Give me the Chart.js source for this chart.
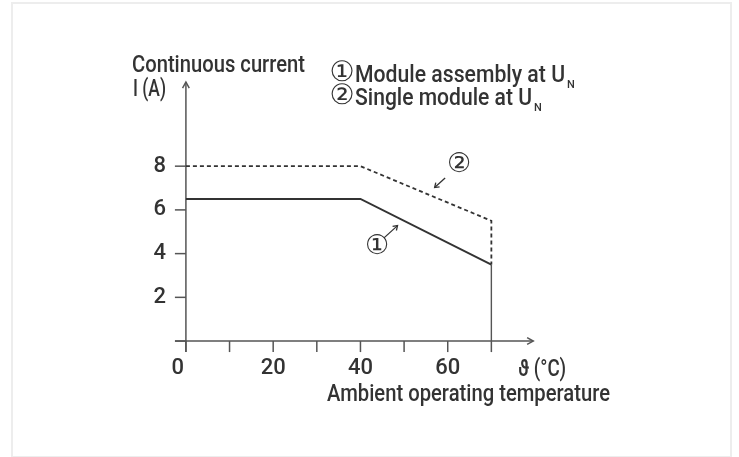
<!DOCTYPE html>
<html>
<head>
<meta charset="utf-8">
<script src="https://cdn.jsdelivr.net/npm/chart.js@4.4.0/dist/chart.umd.min.js"></script>
<style>
  html, body { margin: 0; padding: 0; background: #fff; }
  #wrap { position: relative; width: 739px; height: 457px; overflow: hidden; }
  #frame { position: absolute; left: 11px; top: 2px; width: 721px; height: 456px; border: 2px solid #ededed; box-sizing: border-box; }
  #chart { position: absolute; left: 0; top: 0; }
</style>
</head>
<body>
<div id="wrap">
  <div id="frame"></div>
  <canvas id="chart" width="739" height="457"></canvas>
</div>
<script>
// curve 1: module assembly at U_N (solid)
const tempAssembly = [0, 40, 70, 70];
const currentAssembly = [6.5, 6.5, 3.5, 0];
// curve 2: single module at U_N (dashed)
const tempSingle = [0, 40, 70, 70];
const currentSingle = [8, 8, 5.5, 3.5];

const xTickLabels = [0, 20, 40, 60];
const xTickMarks = [0, 10, 20, 30, 40, 50, 60, 70];
const yTickLabels = [2, 4, 6, 8];
const yTickMarks = [0, 2, 4, 6, 8];

// circled markers pointing at the curves: [label, x, y, arrowFromX, arrowFromY, arrowToX, arrowToY]
const markers = [
  ["②", 62.6, 8.05, 59.4, 7.46, 57.0, 7.02],
  ["①", 43.8, 4.3, 45.4, 4.72, 48.5, 5.28],
];

const FONT = "Roboto, 'Liberation Sans', 'DejaVu Sans', sans-serif";
const CIRCLE_FONT = "'DejaVu Sans', 'Noto Sans CJK JP', sans-serif";
const TEXT = "#333";
const AXIS = "#555";

const toPoints = (xs, ys) => xs.map((x, i) => ({ x, y: ys[i] }));

function arrowHead(ctx, fx, fy, tx, ty, len, spread) {
  const a = Math.atan2(ty - fy, tx - fx);
  ctx.beginPath();
  ctx.moveTo(tx - len * Math.cos(a - spread), ty - len * Math.sin(a - spread));
  ctx.lineTo(tx, ty);
  ctx.lineTo(tx - len * Math.cos(a + spread), ty - len * Math.sin(a + spread));
  ctx.stroke();
}

// draw text squeezed to the condensed width of the original lettering
function fitText(ctx, txt, x, base, width) {
  const w = ctx.measureText(txt).width;
  ctx.save();
  ctx.translate(x, base);
  ctx.scale(width / w, 1);
  ctx.fillText(txt, 0, 0);
  ctx.restore();
}

const axesPlugin = {
  id: "axes",
  beforeDatasetsDraw(chart) {
    const { ctx, scales } = chart;
    const xs = scales.x, ys = scales.y;
    const x0 = xs.getPixelForValue(0);
    const y0 = ys.getPixelForValue(0);
    ctx.save();
    ctx.strokeStyle = AXIS;
    ctx.lineWidth = 1.5;
    // y axis with arrow
    const yTop = ys.getPixelForValue(ys.max);
    ctx.beginPath();
    ctx.moveTo(x0, ys.bottom);
    ctx.lineTo(x0, yTop);
    ctx.stroke();
    arrowHead(ctx, x0, ys.bottom, x0, yTop, 7, 0.5);
    // x axis with arrow
    const xEnd = xs.getPixelForValue(79.6);
    ctx.beginPath();
    ctx.moveTo(xs.left, y0);
    ctx.lineTo(xEnd, y0);
    ctx.stroke();
    arrowHead(ctx, xs.left, y0, xEnd, y0, 7, 0.5);
    // tick marks
    xTickMarks.forEach((v) => {
      const px = xs.getPixelForValue(v);
      ctx.beginPath();
      ctx.moveTo(px, y0);
      ctx.lineTo(px, y0 + 11);
      ctx.stroke();
    });
    yTickMarks.forEach((v) => {
      const py = ys.getPixelForValue(v);
      ctx.beginPath();
      ctx.moveTo(x0 - 11, py);
      ctx.lineTo(x0, py);
      ctx.stroke();
    });
    ctx.restore();
  },
  afterDraw(chart) {
    const { ctx, scales } = chart;
    const xs = scales.x, ys = scales.y;
    ctx.save();
    ctx.fillStyle = TEXT;
    ctx.textBaseline = "alphabetic";
    ctx.textAlign = "left";
    ctx.font = "500 23px " + FONT;

    // axis titles
    fitText(ctx, "Continuous current", 132, 72, 173);
    fitText(ctx, "I (A)", 133, 96, 33);
    fitText(ctx, "ϑ (°C)", 518, 376, 48);
    fitText(ctx, "Ambient operating temperature", 327, 401, 283);

    // legend
    const legend = [
      ["①", "Module assembly at U", 82, 210],
      ["②", "Single module at U", 105, 177],
    ];
    legend.forEach(([num, txt, base, width]) => {
      ctx.font = "28px " + CIRCLE_FONT;
      ctx.textAlign = "center";
      ctx.textBaseline = "middle";
      ctx.fillText(num, 342, base - 8);
      ctx.textAlign = "left";
      ctx.textBaseline = "alphabetic";
      ctx.font = "500 23px " + FONT;
      fitText(ctx, txt, 355, base, width);
      ctx.font = "500 11px " + FONT;
      ctx.fillText("N", 355 + width + 2, base + 6);
    });

    // circled markers with arrows
    ctx.strokeStyle = TEXT;
    ctx.lineWidth = 1.3;
    markers.forEach(([lbl, mx, my, fx, fy, tx, ty]) => {
      ctx.font = "27px " + CIRCLE_FONT;
      ctx.textAlign = "center";
      ctx.textBaseline = "middle";
      ctx.fillText(lbl, xs.getPixelForValue(mx), ys.getPixelForValue(my));
      const ax = xs.getPixelForValue(fx), ay = ys.getPixelForValue(fy);
      const bx = xs.getPixelForValue(tx), by = ys.getPixelForValue(ty);
      ctx.beginPath();
      ctx.moveTo(ax, ay);
      ctx.lineTo(bx, by);
      ctx.stroke();
      arrowHead(ctx, ax, ay, bx, by, 5, 0.6);
    });
    ctx.restore();
  },
};

new Chart(document.getElementById("chart"), {
  type: "line",
  data: {
    datasets: [
      {
        label: "Module assembly at UN",
        data: toPoints(tempAssembly, currentAssembly),
        borderColor: "#333",
        borderWidth: 2,
        pointRadius: 0,
        tension: 0,
        segment: {
          borderWidth: (c) => (c.p0DataIndex === 2 ? 1.4 : 2),
          borderColor: (c) => (c.p0DataIndex === 2 ? "#555" : "#333"),
        },
      },
      {
        label: "Single module at UN",
        data: toPoints(tempSingle, currentSingle),
        borderColor: "#333",
        borderWidth: 1.8,
        borderDash: [4, 3],
        pointRadius: 0,
        tension: 0,
      },
    ],
  },
  plugins: [axesPlugin],
  options: {
    responsive: false,
    animation: false,
    events: [],
    layout: { padding: { left: 135, right: 204, top: 82, bottom: 65 } },
    plugins: { legend: { display: false }, tooltip: { enabled: false } },
    scales: {
      x: {
        type: "linear",
        min: -2.5,
        max: 80,
        afterFit: (s) => { s.height = 40; },
        afterBuildTicks: (s) => { s.ticks = xTickLabels.map((v) => ({ value: v })); },
        grid: { display: false, drawTicks: false },
        border: { display: false },
        ticks: {
          color: TEXT,
          font: { family: FONT, size: 22, weight: "500" },
          padding: 3,
          maxRotation: 0,
          autoSkip: false,
          callback: (v) => (v === 0 ? "0   " : String(v)),
        },
      },
      y: {
        type: "linear",
        min: -0.5,
        max: 11.85,
        afterFit: (s) => { s.width = 40; },
        afterBuildTicks: (s) => { s.ticks = yTickLabels.map((v) => ({ value: v })); },
        grid: { display: false, drawTicks: false },
        border: { display: false },
        ticks: {
          color: TEXT,
          font: { family: FONT, size: 22, weight: "500" },
          padding: 9,
          callback: (v) => String(v),
        },
      },
    },
  },
});
</script>
</body>
</html>
